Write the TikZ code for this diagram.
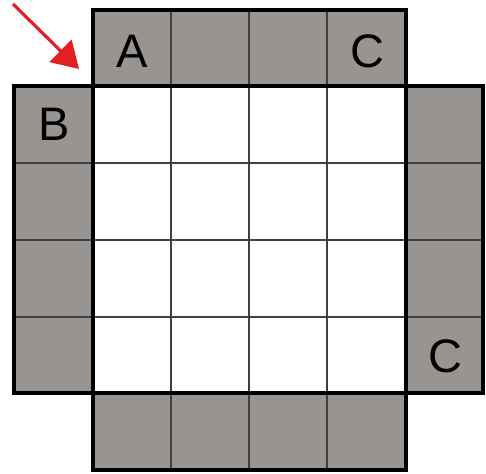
\documentclass[tikz,border=0pt]{standalone}
\usepackage{fontspec}
\setmainfont{Liberation Sans}
\usetikzlibrary{arrows.meta}
\definecolor{cellgrey}{RGB}{151,148,145}
\definecolor{arrowred}{RGB}{226,32,36}
\tikzset{
  strip/.style={fill=cellgrey},
  thick border/.style={line width=4.5pt, line join=miter},
  thin grid/.style={line width=1.5pt, draw=black!75},
  letter/.style={font=\fontsize{47}{47}\selectfont, inner sep=0pt, anchor=center},
  pointer/.style={draw=arrowred, line width=3.2pt, -{Triangle[length=26pt,width=31pt]}}
}
\begin{document}
\begin{tikzpicture}[x=1pt,y=-1pt]
\useasboundingbox (0,0) rectangle (486,473);
% strips
\fill[strip] (93,10) rectangle (406,86);
\fill[strip] (14,86) rectangle (93,393);
\fill[strip] (406,86) rectangle (483,393);
\fill[strip] (93,393) rectangle (406,470);
\fill[white] (93,86) rectangle (406,393);
% thin grid
\foreach \x in {171,249,327} \draw[thin grid] (\x,10) -- (\x,470);
\foreach \y in {163,240,317} \draw[thin grid] (14,\y) -- (483,\y);
% thick borders
\draw[thick border] (93,10) rectangle (406,86);
\draw[thick border] (14,86) rectangle (93,393);
\draw[thick border] (406,86) rectangle (483,393);
\draw[thick border] (93,393) rectangle (406,470);
\draw[thick border] (93,86) rectangle (406,393);
% letters
\node[letter] (a) at (132,51) {A};
\node[letter] (c1) at (367,51) {C};
\node[letter] (b) at (54,124) {B};
\node[letter] (c2) at (445,356) {C};
% arrow
\coordinate (s) at (13,4);
\coordinate (t) at (79,69);
\draw[pointer] (s) -- (t);
\end{tikzpicture}
\end{document}
